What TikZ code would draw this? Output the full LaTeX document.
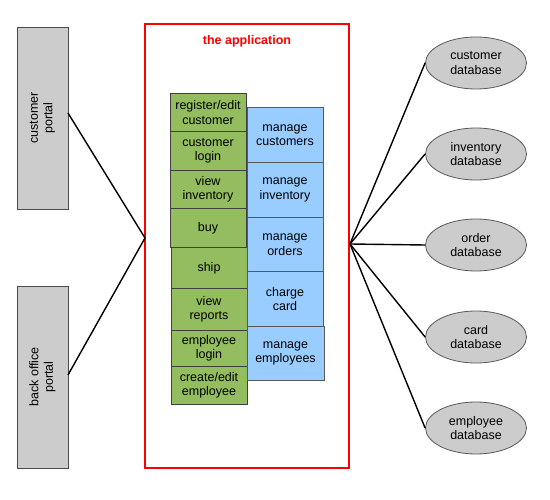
\documentclass[tikz,border=0pt]{standalone}
\usepackage{fontspec}
\setmainfont{Liberation Sans}
\usetikzlibrary{shapes.geometric}
\begin{document}
\begin{tikzpicture}[x=1pt,y=-1pt,
  font=\fontsize{12.5}{14.5}\selectfont,
  portal/.style={draw=black!70,fill=black!20,line width=0.8pt},
  gbox/.style={draw=black!75,fill={rgb,255:red,147;green,189;blue,94},line width=0.8pt},
  bbox/.style={draw=black!65,fill={rgb,255:red,153;green,204;blue,255},line width=0.8pt},
  db/.style={ellipse,draw=black!65,fill=black!20,line width=0.8pt,minimum width=101pt,minimum height=52pt,inner sep=0pt,align=center},
  lnk/.style={line width=1.4pt,black}]
\useasboundingbox (0,0) rectangle (550,500);
% portals
\draw[portal] (17,27) rectangle (68,209);
\node[rotate=90,align=center] (cp) at (42.5,118) {customer\\portal};
\coordinate (cpE) at (68,113);
\draw[portal] (17,286) rectangle (68,468);
\node[rotate=90,align=center] (bp) at (42.5,377) {back office\\portal};
\coordinate (bpE) at (68,375);
% application
\draw[red,line width=1.5pt] (145,24) rectangle (349,468);
\node[red,font=\fontsize{12.5}{14.5}\selectfont\bfseries] (title) at (247,41) {the application};
\coordinate (lhub) at (145,238);
\coordinate (rhub) at (350,244);
% green column
\foreach \ya/\yb/\xa/\xb/\t [count=\i] in {93/131/170/246/{register/edit\\customer}, 131/170/170/246/{customer\\login}, 170/208/170/246/{view\\inventory}, 208/247/170/246/{buy}, 247/288/171/247/{ship}, 288/330/171/247/{view\\reports}, 330/366/171/247/{employee\\login}, 366/404/171/247/{create/edit\\employee}}{
  \draw[gbox] (\xa,\ya) rectangle (\xb,\yb);
  \node[align=center] (g\i) at ({(\xa+\xb)/2},{(\ya+\yb)/2+0.5}) {\t};
}
% blue column
\foreach \ya/\yb/\xb/\t [count=\i] in {107/162/323/{manage\\customers}, 162/217/323/{manage\\inventory}, 217/271/323/{manage\\orders}, 271/326/323/{charge\\card}, 326/380/324/{manage\\employees}}{
  \draw[bbox] (247,\ya) rectangle (\xb,\yb);
  \node[align=center] (b\i) at ({(247+\xb)/2},{(\ya+\yb)/2+0.5}) {\t};
}
% databases
\node[db] (d1) at (476,63) {customer\\database};
\node[db] (d2) at (476,154) {inventory\\database};
\node[db] (d3) at (476,245) {order\\database};
\node[db] (d4) at (476,337) {card\\database};
\node[db] (d5) at (476,428) {employee\\database};
% links
\draw[lnk] (cpE) -- (lhub) -- (bpE);
\foreach \d in {d1,d2,d3,d4,d5} \draw[lnk] (rhub) -- (\d.west);
\end{tikzpicture}
\end{document}
